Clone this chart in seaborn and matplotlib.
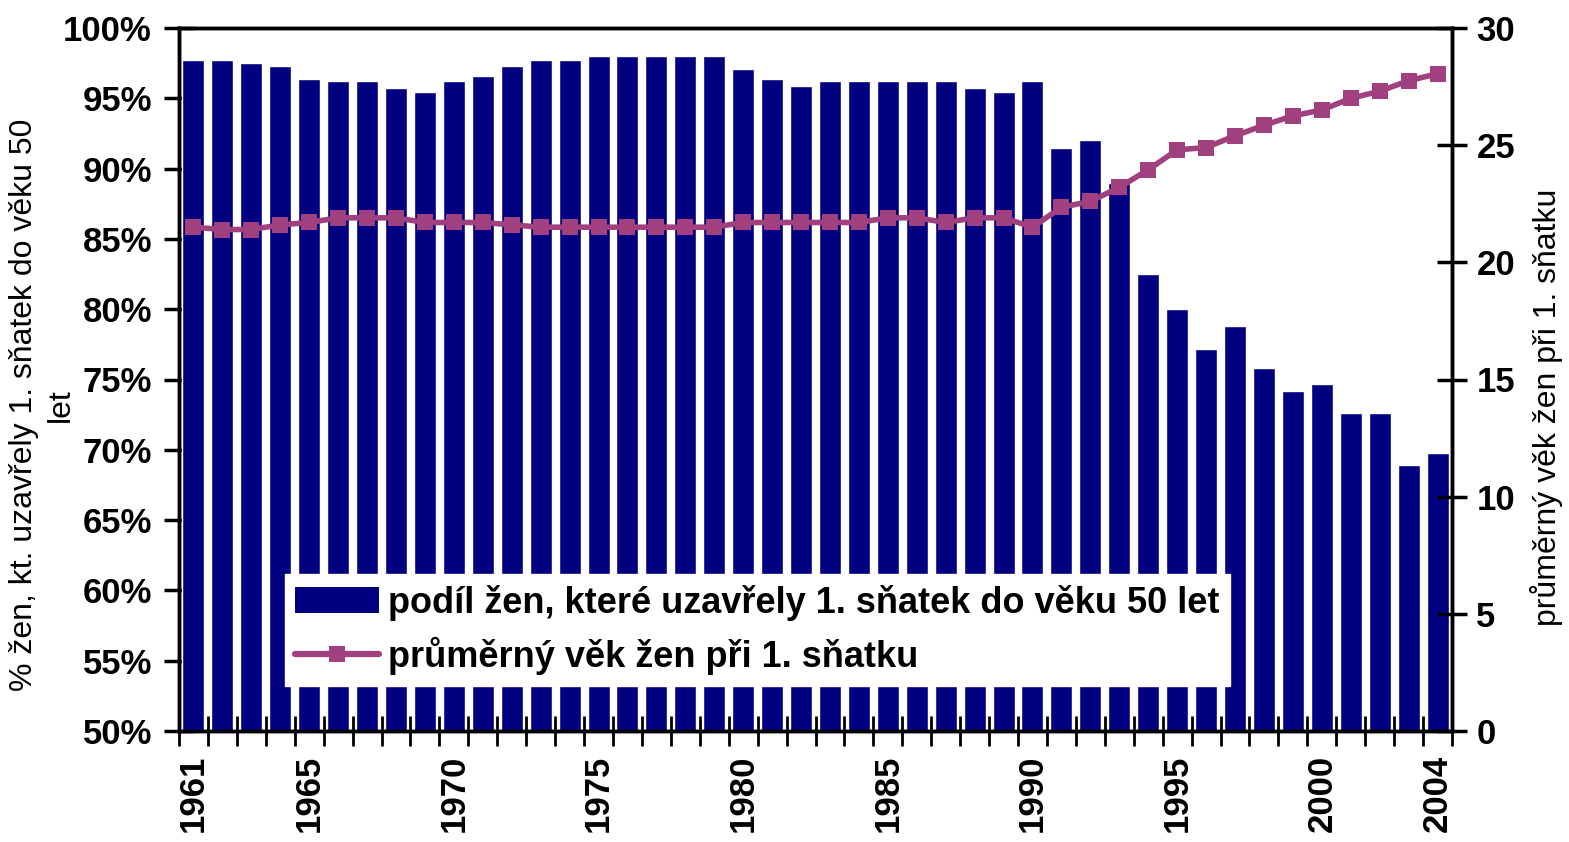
import matplotlib
matplotlib.use("Agg")
import matplotlib.pyplot as plt
import seaborn as sns
import numpy as np
import pandas as pd
from matplotlib.patches import Patch
from matplotlib.lines import Line2D

# data
years = list(range(1961, 2005))
share_married = [97.7, 97.7, 97.5, 97.3, 96.4, 96.2, 96.2, 95.7, 95.45, 96.2,
                 96.6, 97.3, 97.7, 97.7, 98.0, 98.0, 98.0, 98.0, 98.0, 97.1,
                 96.4, 95.9, 96.2, 96.2, 96.2, 96.2, 96.2, 95.7, 95.45, 96.2,
                 91.5, 92.0, 89.0, 82.5, 80.0, 77.2, 78.8, 75.8, 74.2, 74.7,
                 72.6, 72.6, 68.9, 69.8]
mean_age = [21.5, 21.4, 21.4, 21.6, 21.7, 21.9, 21.9, 21.9, 21.7, 21.7,
            21.7, 21.6, 21.5, 21.5, 21.5, 21.5, 21.5, 21.5, 21.5, 21.7,
            21.7, 21.7, 21.7, 21.7, 21.9, 21.9, 21.7, 21.9, 21.9, 21.5,
            22.35, 22.6, 23.2, 23.95, 24.8, 24.9, 25.4, 25.85, 26.25, 26.5,
            27.0, 27.3, 27.75, 28.05]
label_years = [1961, 1965, 1970, 1975, 1980, 1985, 1990, 1995, 2000, 2004]
left_ticks = [50, 55, 60, 65, 70, 75, 80, 85, 90, 95, 100]
right_ticks = [0, 5, 10, 15, 20, 25, 30]

bar_label = "podíl žen, které uzavřely 1. sňatek do věku 50 let"
line_label = "průměrný věk žen při 1. sňatku"

df = pd.DataFrame({"rok": [str(y) for y in years],
                   "podil": share_married,
                   "vek": mean_age})

sns.set_theme(style="white")
plt.rcParams["font.family"] = ["Liberation Sans", "DejaVu Sans"]
plt.rcParams["text.color"] = "black"
plt.rcParams["axes.labelcolor"] = "black"
plt.rcParams["xtick.color"] = "black"
plt.rcParams["ytick.color"] = "black"

BAR = "#000080"
LINE = "#A0407E"

fig = plt.figure(figsize=(15.69, 8.42), dpi=100)
ax = fig.add_axes([179 / 1569, 1 - 731 / 842, (1452 - 179) / 1569, (731 - 28) / 842])

sns.barplot(data=df, x="rok", y="podil", color=BAR, saturation=1,
            width=0.76, ax=ax)
ax.set_ylim(50, 100)
ax.set_xlim(-0.5, len(years) - 0.5)

ax2 = ax.twinx()
sns.lineplot(x=np.arange(len(years)), y=df["vek"], ax=ax2, color=LINE,
             linewidth=4, marker="s", markersize=12, markeredgewidth=0)
ax2.set_ylim(0, 30)
ax2.set_xlim(-0.5, len(years) - 0.5)

# x axis: ticks on category boundaries, labels on selected years
ax.set_xticks([years.index(y) for y in label_years])
ax.set_xticklabels([str(y) for y in label_years], rotation=90,
                   fontsize=25, fontweight="bold")
ax.set_xticks(np.arange(-0.5, len(years), 1), minor=True)
ax.tick_params(axis="x", which="major", length=0, pad=17)
ax.tick_params(axis="x", which="minor", direction="inout", length=22,
               width=2, color="black", bottom=True)

ax.set_yticks(left_ticks)
ax.set_yticklabels([f"{t}%" for t in left_ticks], fontsize=25, fontweight="bold")
ax.tick_params(axis="y", direction="inout", length=21, width=2.5,
               color="black", left=True, pad=9)

ax2.set_yticks(right_ticks)
ax2.set_yticklabels([str(t) for t in right_ticks], fontsize=25, fontweight="bold")
ax2.tick_params(axis="y", direction="inout", length=21, width=2.5,
                color="black", right=True, pad=7)

for a in (ax, ax2):
    for s in a.spines.values():
        s.set_color("black")
        s.set_linewidth(2.5)
    a.set_xlabel("")

ax.set_ylabel("% žen, kt. uzavřely 1. sňatek do věku 50\nlet", fontsize=23,
              linespacing=1.3)
ax.yaxis.set_label_coords(-0.081, 0.464)
ax2.set_ylabel(line_label, fontsize=23, rotation=90)
ax2.yaxis.set_label_coords(1.061, 0.46)

handles = [Patch(facecolor=BAR, edgecolor="none"),
           Line2D([0], [0], color=LINE, linewidth=4.5, marker="s", markersize=12,
                  markeredgewidth=0)]
leg = ax2.legend(handles, [bar_label, line_label], loc="lower left",
                 bbox_to_anchor=(0.083, 0.064), frameon=True, fancybox=False,
                 framealpha=1, edgecolor="white", facecolor="white",
                 handlelength=2.3, handleheight=0.72, handletextpad=0.25,
                 borderpad=0.3, labelspacing=0.45, borderaxespad=0,
                 prop={"size": 26, "weight": "bold"})

fig.savefig("out.png", dpi=100)
